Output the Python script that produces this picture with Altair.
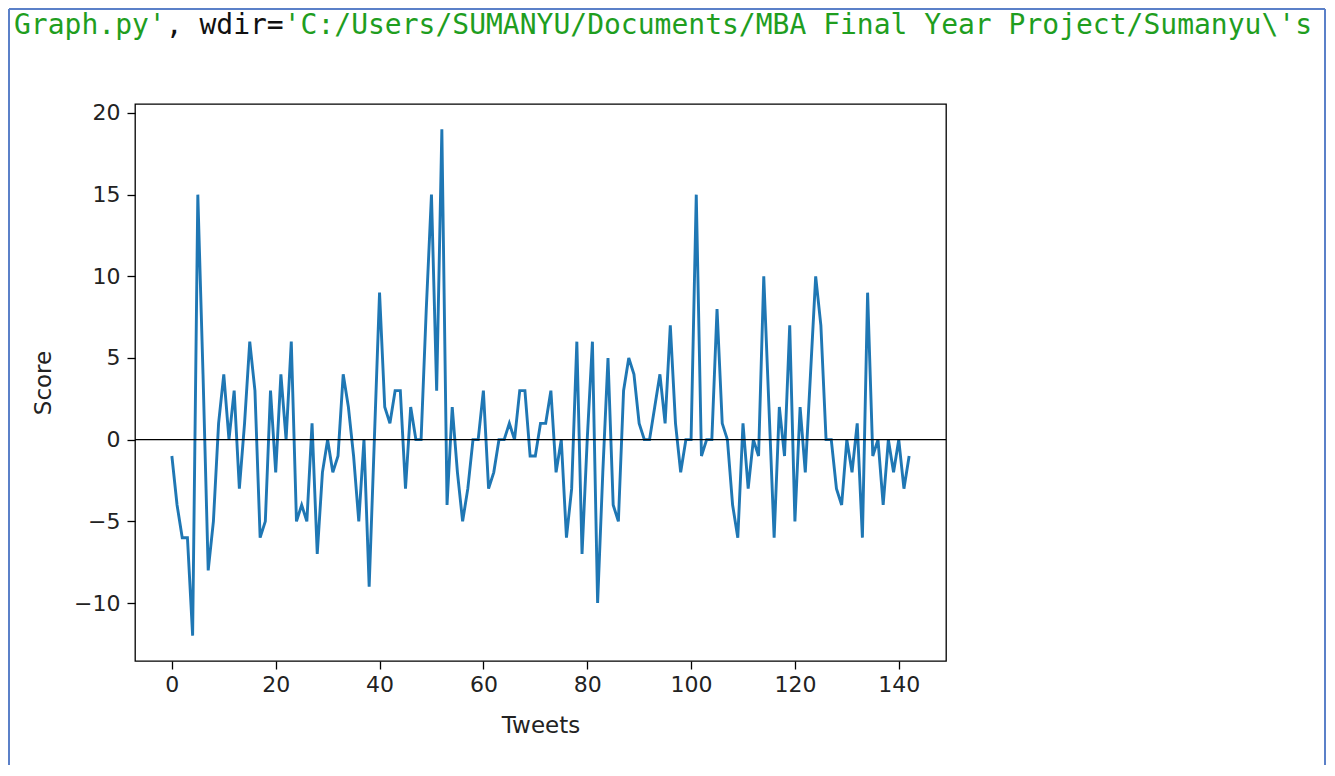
import altair as alt
import pandas as pd

# ---- data ----
scores = [
    -1, -4, -6, -6, -12, 15, 4, -8, -5, 1,
    4, 0, 3, -3, 1, 6, 3, -6, -5, 3,
    -2, 4, 0, 6, -5, -4, -5, 1, -7, -2,
    0, -2, -1, 4, 2, -1, -5, 0, -9, 0,
    9, 2, 1, 3, 3, -3, 2, 0, 0, 8,
    15, 3, 19, -4, 2, -2, -5, -3, 0, 0,
    3, -3, -2, 0, 0, 1, 0, 3, 3, -1,
    -1, 1, 1, 3, -2, 0, -6, -3, 6, -7,
    0, 6, -10, -2, 5, -4, -5, 3, 5, 4,
    1, 0, 0, 2, 4, 1, 7, 1, -2, 0,
    0, 15, -1, 0, 0, 8, 1, 0, -4, -6,
    1, -3, 0, -1, 10, 2, -6, 2, -1, 7,
    -5, 2, -2, 4, 10, 7, 0, 0, -3, -4,
    0, -2, 1, -6, 9, -1, 0, -4, 0, -2,
    0, -3, -1,
]
tweets = list(range(len(scores)))
x_ticks = [0, 20, 40, 60, 80, 100, 120, 140]
y_ticks = [-10, -5, 0, 5, 10, 15, 20]
x_domain = [-7.1, 149.1]
y_domain = [-13.55, 20.55]

header_parts = ["Graph.py'", ", wdir=", "'C:/Users/SUMANYU/Documents/MBA Final Year Project/Sumanyu\\'s"]
header_colors = ["#1f9e1f", "#111111", "#1f9e1f"]

df = pd.DataFrame({"tweet": tweets, "score": scores})

W, H = 811, 557
PAD = {"left": 127, "top": 96, "right": 381, "bottom": 104}
FONT = "DejaVu Sans"

line = alt.Chart(df).mark_line(color="#1f77b4", strokeWidth=2.9).encode(
    x=alt.X("tweet:Q",
            scale=alt.Scale(domain=x_domain, nice=False, zero=False),
            axis=alt.Axis(values=x_ticks, title="Tweets", grid=False, domain=False,
                          tickSize=8, tickColor="#000", tickWidth=1.3,
                          labelFont=FONT, labelFontSize=22, labelColor="#222",
                          labelPadding=5, labelFlush=False,
                          titleFont=FONT, titleFontSize=23, titleFontWeight="normal",
                          titleColor="#222", titleY=64, titleBaseline="middle")),
    y=alt.Y("score:Q",
            scale=alt.Scale(domain=y_domain, nice=False, zero=False),
            axis=alt.Axis(values=y_ticks, title="Score", grid=False, domain=False,
                          tickSize=8, tickColor="#000", tickWidth=1.3,
                          labelFont=FONT, labelFontSize=22, labelColor="#222",
                          labelPadding=7, labelFlush=False,
                          titleFont=FONT, titleFontSize=23, titleFontWeight="normal",
                          titleColor="#222", titleX=-92, titleY=H / 2,
                          titleAngle=270, titleBaseline="middle", titleAlign="center")),
)

zero = alt.Chart(pd.DataFrame({"z": [0]})).mark_rule(color="#000", strokeWidth=1.4).encode(
    y=alt.datum(0)
)

layers = [line, zero]

# header text (monospace, three coloured segments)
char_w = 28 * 0.602
offset = 0
for part, col in zip(header_parts, header_colors):
    layers.append(
        alt.Chart(pd.DataFrame({"t": [part]})).mark_text(
            font="DejaVu Sans Mono", fontSize=28, color=col, align="left",
            baseline="alphabetic"
        ).encode(text="t:N", x=alt.value(-121 + offset * char_w), y=alt.value(-70))
    )
    offset += len(part)

# window border (left, top, right)
border_color = "#5b80c8"
layers.append(
    alt.Chart(pd.DataFrame({"b": [0]})).mark_rule(color=border_color, strokeWidth=2).encode(
        x=alt.value(-126), y=alt.value(-95), y2=alt.value(H + 104))
)
layers.append(
    alt.Chart(pd.DataFrame({"b": [0]})).mark_rule(color=border_color, strokeWidth=2).encode(
        x=alt.value(-126), x2=alt.value(1190), y=alt.value(-95))
)
layers.append(
    alt.Chart(pd.DataFrame({"b": [0]})).mark_rule(color=border_color, strokeWidth=2).encode(
        x=alt.value(1190), y=alt.value(-95), y2=alt.value(H + 104))
)

chart = alt.layer(*layers).properties(
    width=W, height=H, padding=PAD,
    autosize=alt.AutoSizeParams(type="none"),
    background="white",
).configure_view(stroke="#000", strokeWidth=1.3)

chart.save("out.html", embed_options={"renderer": "svg", "actions": False})
